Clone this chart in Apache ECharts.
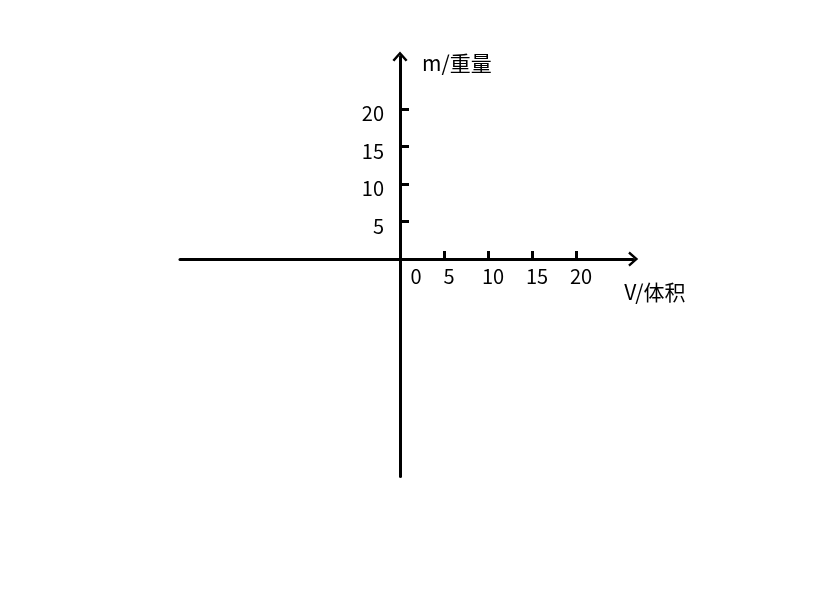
<!DOCTYPE html>
<html><head><meta charset="utf-8">
<script src="https://cdn.jsdelivr.net/npm/echarts@6/dist/echarts.min.js"></script>
<style>html,body{margin:0;padding:0;background:#fff}#c{width:830px;height:593px}</style>
</head><body><div id="c"></div>
<script>
var xTickValues = [5, 10, 15, 20];
var xLabelValues = [0, 5, 10, 15, 20];
var yTickValues = [5, 10, 15, 20];
var yLabelValues = [5, 10, 15, 20];
var xName = 'V/体积';
var yName = 'm/重量';

var FONT = '"Noto Sans CJK SC", "Noto Sans", sans-serif';
var FS = 20;
var chevron = 'path://M0 9.5 L8.5 0 L17 9.5 L14.8 11.2 L8.5 4 L2.2 11.2 Z';
var chart = echarts.init(document.getElementById('c'), null, {renderer: 'canvas'});
chart.setOption({
  animation: false,
  grid: {left: 180, top: 56.5, width: 453.2, height: 420, containLabel: false},
  xAxis: {
    type: 'value', min: -25, max: 26.5, position: 'bottom', offset: -217.5,
    name: xName, nameLocation: 'end', nameGap: -9,
    nameTextStyle: {fontFamily: FONT, fontSize: 21, color: '#000', align: 'left', verticalAlign: 'top', padding: [23, 0, 0, 0]},
    axisLine: {show: true, onZero: false, lineStyle: {color: '#000', width: 3}, symbol: ['none', chevron], symbolSize: [17, 10]},
    axisTick: {show: true, inside: true, length: 8, lineStyle: {color: '#000', width: 3}, customValues: xTickValues},
    axisLabel: {
      show: true, margin: 7, fontFamily: FONT, fontSize: FS, color: '#000',
      customValues: xLabelValues,
      formatter: function (v) { return v === 0 ? '{z|0}' : '{n|' + v + '}'; },
      rich: {
        z: {fontFamily: FONT, fontSize: FS, color: '#000', padding: [0, 0, 0, 32]},
        n: {fontFamily: FONT, fontSize: FS, color: '#000', padding: [0, 0, 0, 10]}
      }
    },
    splitLine: {show: false}
  },
  yAxis: {
    type: 'value', min: -29, max: 27, position: 'left', offset: -220,
    name: yName, nameLocation: 'end', nameGap: -6.5,
    nameTextStyle: {fontFamily: FONT, fontSize: 21, color: '#000', align: 'left', verticalAlign: 'middle', padding: [0, 0, 0, 22]},
    axisLine: {show: true, onZero: false, lineStyle: {color: '#000', width: 3}, symbol: ['none', chevron], symbolSize: [17, 10]},
    axisTick: {show: true, inside: true, length: 9, lineStyle: {color: '#000', width: 3}, customValues: yTickValues},
    axisLabel: {
      show: true, margin: 16, fontFamily: FONT, fontSize: FS, color: '#000',
      customValues: yLabelValues,
      formatter: function (v) { return '{a|' + v + '}'; },
      rich: {
        a: {fontFamily: FONT, fontSize: FS, color: '#000', padding: [9, 0, 0, 0]}
      }
    },
    splitLine: {show: false}
  },
  series: []
});
</script>
</body></html>
